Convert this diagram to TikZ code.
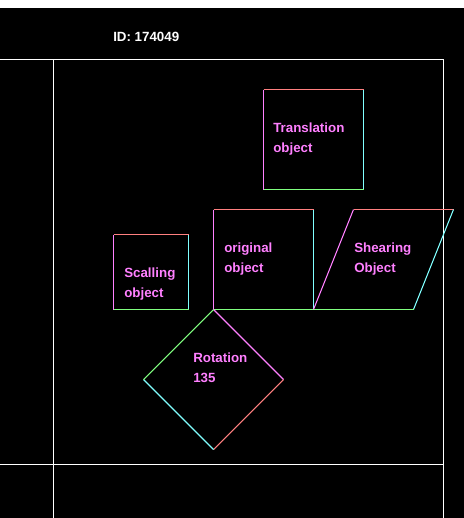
\documentclass[tikz,border=0pt]{standalone}
\usepackage{fontspec}
\setmainfont{Liberation Sans}
\definecolor{topcol}{RGB}{255,128,128}
\definecolor{rightcol}{RGB}{128,255,255}
\definecolor{bottomcol}{RGB}{128,255,128}
\definecolor{leftcol}{RGB}{255,128,255}
\definecolor{labelcol}{RGB}{255,128,255}
\tikzset{
  topedge/.style={draw=topcol,line width=0.8pt},
  rightedge/.style={draw=rightcol,line width=0.8pt},
  bottomedge/.style={draw=bottomcol,line width=0.8pt},
  leftedge/.style={draw=leftcol,line width=0.8pt},
  frameline/.style={draw=white,line width=0.9pt},
  objlabel/.style={anchor=base west,inner sep=0pt,text=labelcol,font=\bfseries\fontsize{10}{12}\selectfont},
}
\begin{document}
\begin{tikzpicture}[x=0.75pt,y=0.75pt,yscale=-1,xscale=1]
\useasboundingbox (0,0) rectangle (464,518);
%Shape: Background
\fill[black] (0,0) rectangle (464,518);
\fill[white] (0,0) rectangle (464,8);
\begin{scope}[shift={(0.5,0.5)}]
%Straight Lines: frame
\draw[frameline] (0,59) -- (443,59);
\draw[frameline] (0,464) -- (443,464);
\draw[frameline] (53,59) -- (53,518);
\draw[frameline] (443,59) -- (443,518);
%Shape: Square [translation]
\coordinate (tr1) at (263,89);
\coordinate (tr2) at (363,89);
\coordinate (tr3) at (363,189);
\coordinate (tr4) at (263,189);
\draw[topedge] (tr1) -- (tr2);
\draw[rightedge] (tr2) -- (tr3);
\draw[bottomedge] (tr4) -- (tr3);
\draw[leftedge] (tr1) -- (tr4);
%Shape: Square [original]
\coordinate (or1) at (213,209);
\coordinate (or2) at (313,209);
\coordinate (or3) at (313,309);
\coordinate (or4) at (213,309);
\draw[topedge] (or1) -- (or2);
\draw[rightedge] (or2) -- (or3);
\draw[bottomedge] (or4) -- (or3);
\draw[leftedge] (or1) -- (or4);
%Shape: Square [scaling]
\coordinate (sc1) at (113,234);
\coordinate (sc2) at (188,234);
\coordinate (sc3) at (188,309);
\coordinate (sc4) at (113,309);
\draw[topedge] (sc1) -- (sc2);
\draw[rightedge] (sc2) -- (sc3);
\draw[bottomedge] (sc4) -- (sc3);
\draw[leftedge] (sc1) -- (sc4);
%Shape: Parallelogram [shearing]
\coordinate (sh1) at (353,209);
\coordinate (sh2) at (453,209);
\coordinate (sh3) at (413,309);
\coordinate (sh4) at (313,309);
\draw[topedge] (sh1) -- (sh2);
\draw[rightedge] (sh2) -- (sh3);
\draw[bottomedge] (sh4) -- (sh3);
\draw[leftedge] (sh1) -- (sh4);
%Shape: Diamond [rotation]
\coordinate (ro1) at (213,309);
\coordinate (ro2) at (283,379);
\coordinate (ro3) at (213,449);
\coordinate (ro4) at (143,379);
\draw[leftedge] (ro1) -- (ro2);
\draw[topedge] (ro2) -- (ro3);
\draw[rightedge] (ro4) -- (ro3);
\draw[bottomedge] (ro1) -- (ro4);
\end{scope}
% Text Node
\node[objlabel,text=white] (id) at (113,41.5) {ID: 174049};
% Text Node
\node[objlabel] (trans) at (273,132) {Translation};
\node[objlabel] (transb) at (273,152) {object};
% Text Node
\node[objlabel] (orig) at (224,252) {original};
\node[objlabel] (origb) at (224,272) {object};
% Text Node
\node[objlabel] (scal) at (124,277) {Scalling};
\node[objlabel] (scalb) at (124,297) {object};
% Text Node
\node[objlabel] (shear) at (354,252) {Shearing};
\node[objlabel] (shearb) at (354,272) {Object};
% Text Node
\node[objlabel] (rot) at (193,362.5) {Rotation};
\node[objlabel] (rotb) at (193,382.5) {135};
\end{tikzpicture}
\end{document}
